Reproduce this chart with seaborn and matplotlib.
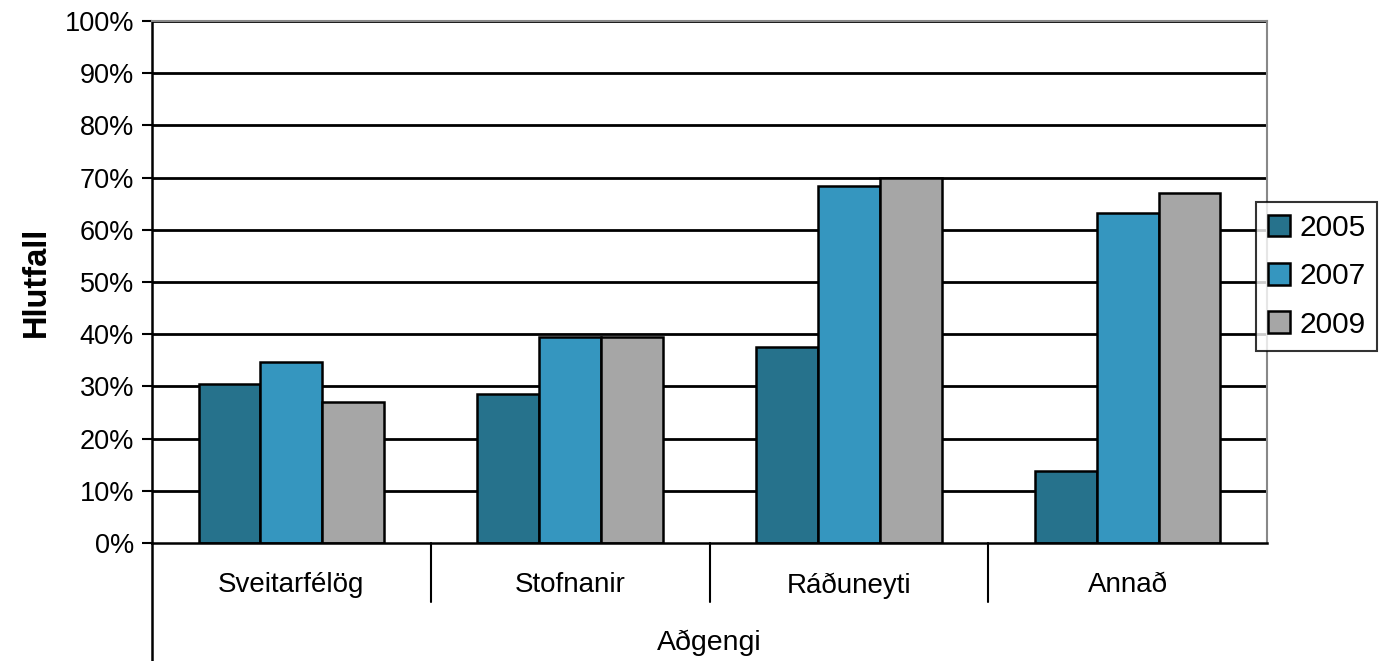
import numpy as np
import pandas as pd
import seaborn as sns
from matplotlib import pyplot as plt
from matplotlib.transforms import blended_transform_factory

# Gögn lesin af myndinni
flokkar = ["Sveitarfélög", "Stofnanir", "Ráðuneyti", "Annað"]
ar = ["2005", "2007", "2009"]
gildi_2005 = [30.4, 28.5, 37.5, 13.7]
gildi_2007 = [34.6, 39.4, 68.4, 63.3]
gildi_2009 = [27.1, 39.4, 69.9, 67.1]
y_ticks = [0, 10, 20, 30, 40, 50, 60, 70, 80, 90, 100]
litir = {"2005": "#26728c", "2007": "#3596bf", "2009": "#a6a6a6"}

df = pd.DataFrame({
    "Aðgengi": flokkar * 3,
    "Ár": ["2005"] * 4 + ["2007"] * 4 + ["2009"] * 4,
    "Hlutfall": gildi_2005 + gildi_2007 + gildi_2009,
})

sns.set_style("white")
plt.rcParams['font.family'] = ['Liberation Sans', 'DejaVu Sans']
plt.rcParams['text.color'] = 'black'
plt.rcParams['axes.labelcolor'] = 'black'
plt.rcParams['xtick.color'] = 'black'
plt.rcParams['ytick.color'] = 'black'

fig = plt.figure(figsize=(13.81, 6.61), dpi=100)
ax = fig.add_axes([152 / 1381, 1 - 543 / 661, (1267 - 152) / 1381, (543 - 21) / 661])

sns.barplot(data=df, x="Aðgengi", y="Hlutfall", hue="Ár", order=flokkar, hue_order=ar,
            palette=litir, saturation=1, width=0.665, edgecolor="black",
            linewidth=1.8, ax=ax, zorder=3)

ax.set_ylim(0, 100)
ax.set_xlim(-0.5, 3.5)
ax.set_yticks(y_ticks)
ax.set_yticklabels([f"{t}%" for t in y_ticks], fontsize=19.5)
for t in y_ticks[1:]:
    ax.axhline(t, color="black", lw=2, zorder=1)

ax.tick_params(axis="y", length=7, width=1.5, color="black", pad=6, left=True)
ax.set_xticks(range(len(flokkar)))
ax.set_xticklabels(flokkar, fontsize=20)
ax.tick_params(axis="x", length=0, pad=21)

ax.set_ylabel("Hlutfall", fontsize=23.5, fontweight="bold", labelpad=9)
ax.set_xlabel("Aðgengi", fontsize=20.5, labelpad=22)

for s in ["top", "right"]:
    ax.spines[s].set_color("#888888")
    ax.spines[s].set_linewidth(1.5)
ax.spines["left"].set_color("black")
ax.spines["left"].set_linewidth(1.8)
ax.spines["bottom"].set_color("black")
ax.spines["bottom"].set_linewidth(1.8)
ax.spines["bottom"].set_zorder(4)

# Skilalínur á flokkaás
trans = blended_transform_factory(ax.transData, ax.transAxes)
for k in range(1, len(flokkar)):
    ax.plot([k - 0.5, k - 0.5], [0, -59 / 522], color="black", lw=1.5,
            transform=trans, clip_on=False)
ax.plot([-0.5, -0.5], [0, -118 / 522], color="black", lw=1.8,
        transform=trans, clip_on=False)

leg = ax.legend(title=None, fontsize=21.5, loc="upper left",
                bbox_to_anchor=(1256 / 1381, 1 - 202 / 661),
                bbox_transform=fig.transFigure, frameon=True, fancybox=False,
                edgecolor="black", handlelength=0.75, handleheight=0.75,
                handletextpad=0.3, labelspacing=0.68, borderpad=0.4,
                borderaxespad=0)
leg.get_frame().set_linewidth(1.5)

fig.savefig("out.png", dpi=100)
